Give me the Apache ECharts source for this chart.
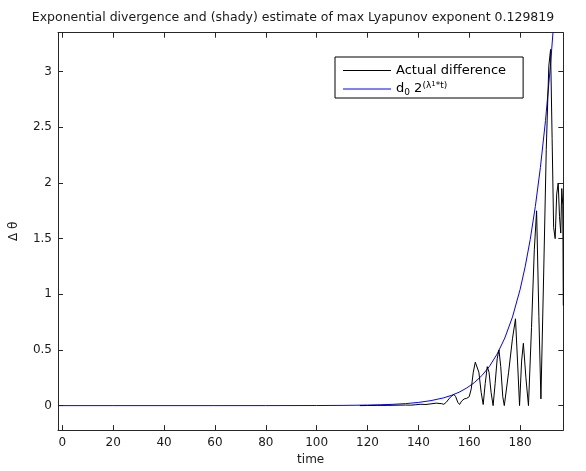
<!DOCTYPE html>
<html>
<head>
<meta charset="utf-8">
<script src="https://cdn.jsdelivr.net/npm/echarts@6/dist/echarts.min.js"></script>
<style>
html,body{margin:0;padding:0;background:#fff;}
#chart{width:586px;height:471px;}
</style>
</head>
<body>
<div id="chart"></div>
<script>
// ---- data ----
var titleText = 'Exponential divergence and (shady) estimate of max Lyapunov exponent 0.129819';
var seriesNames = ['Actual difference', 'd0 2^(λ1*t)'];
var xTicks = [0, 20, 40, 60, 80, 100, 120, 140, 160, 180];
var yTicks = [0, 0.5, 1, 1.5, 2, 2.5, 3];

var estimateTime = [-1.7, 20, 40, 60, 80, 100, 110, 120, 125, 130, 135, 140, 145, 150, 153, 156, 159, 162, 165, 168, 171, 174, 177, 180, 182, 184, 186, 188, 190, 192, 194, 196];
var estimateValue = [0, 0, 0, 0, 0.0001, 0.0008, 0.0019, 0.0047, 0.0075, 0.0116, 0.018, 0.0285, 0.045, 0.070, 0.092, 0.120, 0.158, 0.206, 0.270, 0.354, 0.464, 0.607, 0.795, 1.042, 1.247, 1.493, 1.788, 2.14, 2.56, 3.07, 3.67, 4.40];

var actualTime = [117, 120, 124, 128, 132, 135, 137, 139, 141, 143, 145, 147, 149, 150, 151, 152, 153, 154, 154.7, 155.5, 156.2, 157, 158, 159, 160, 160.8, 161.6, 162.4, 163, 163.8, 164.7, 165.5, 166.3, 167.1, 167.8, 168.6, 169.4, 170.2, 171, 171.7, 172.4, 173.2, 173.8, 175.5, 177, 178.2, 179, 179.8, 180.6, 181.3, 182.3, 183.3, 184.5, 185.6, 186.5, 187.4, 188.2, 189.3, 190.3, 191.3, 192.0, 192.6, 193.2, 193.8, 194.4, 195.0, 195.5, 196.0, 196.4, 196.8, 197.0];
var actualValue = [0, 0.001, 0.002, 0.002, 0.004, 0.005, 0.004, 0.008, 0.012, 0.010, 0.016, 0.022, 0.018, 0.012, 0.030, 0.060, 0.085, 0.100, 0.080, 0.030, 0.010, 0.040, 0.060, 0.065, 0.080, 0.150, 0.300, 0.390, 0.400, 0.300, 0.120, 0.010, 0.200, 0.350, 0.300, 0.120, 0.000, 0.200, 0.420, 0.500, 0.350, 0.080, 0.000, 0.300, 0.600, 0.780, 0.400, 0.000, 0.400, 0.560, 0.250, 0.000, 0.700, 1.400, 1.750, 0.800, 0.060, 1.200, 2.300, 3.050, 3.200, 2.400, 1.600, 1.500, 1.900, 2.000, 1.700, 1.550, 1.950, 1.800, 0.900];

function pairs(xs, ys) {
  var out = [];
  for (var i = 0; i < xs.length; i++) out.push([xs[i], ys[i]]);
  return out;
}

var FONT = 'DejaVu Sans, Liberation Sans, sans-serif';
var AX = '#262626';
var TXT = '#1a1a1a';
var xMin = -1.7, xMax = 197, yMin = -0.22, yMax = 3.35;

var chart = echarts.init(document.getElementById('chart'), null, {renderer: 'canvas'});

function baseX(pos, show) {
  return {
    type: 'value', position: pos, min: xMin, max: xMax,
    axisLine: {show: true, onZero: false, lineStyle: {color: AX, width: 1}},
    axisTick: {show: true, inside: true, length: 5, customValues: xTicks, lineStyle: {color: AX}},
    axisLabel: {show: show, customValues: xTicks, color: TXT, fontFamily: FONT, fontSize: 12, margin: 7},
    splitLine: {show: false}
  };
}
function baseY(pos, show) {
  return {
    type: 'value', position: pos, min: yMin, max: yMax,
    axisLine: {show: true, onZero: false, lineStyle: {color: AX, width: 1}},
    axisTick: {show: true, inside: true, length: 5, customValues: yTicks, lineStyle: {color: AX}},
    axisLabel: {show: show, customValues: yTicks, color: TXT, fontFamily: FONT, fontSize: 12, margin: 6},
    splitLine: {show: false}
  };
}

var xBottom = baseX('bottom', true);
xBottom.name = 'time';
xBottom.nameLocation = 'middle';
xBottom.nameGap = 23;
xBottom.nameTextStyle = {color: TXT, fontFamily: FONT, fontSize: 12};
var yLeft = baseY('left', true);
yLeft.name = 'Δ θ';
yLeft.nameLocation = 'middle';
yLeft.nameRotate = 90;
yLeft.nameGap = 38;
yLeft.nameTextStyle = {color: TXT, fontFamily: FONT, fontSize: 12};

var option = {
  backgroundColor: '#fff',
  animation: false,
  title: {
    text: titleText, left: 'center', top: 6,
    textStyle: {color: TXT, fontFamily: FONT, fontSize: 12.5, fontWeight: 'normal'}
  },
  grid: {left: 56.5, right: 22.7, top: 32.7, bottom: 38.5, containLabel: false},
  legend: {
    orient: 'vertical', left: 335, top: 57,
    backgroundColor: '#fff', borderColor: '#000', borderWidth: 1,
    padding: [7, 17, 1, 8],
    itemWidth: 48, itemHeight: 1, itemGap: 4,
    icon: 'rect',
    textStyle: {
      color: '#000', fontFamily: FONT, fontSize: 13,
      rich: {
        n: {fontSize: 13, fontFamily: FONT, color: '#000', lineHeight: 16},
        sub: {fontSize: 9, fontFamily: FONT, color: '#000', verticalAlign: 'bottom', lineHeight: 16, padding: [6, 0, 0, 0]},
        sup: {fontSize: 9, fontFamily: FONT, color: '#000', verticalAlign: 'top', lineHeight: 16, padding: [0, 0, 6, 0]},
        supsub: {fontSize: 7, fontFamily: FONT, color: '#000', verticalAlign: 'top', lineHeight: 16, padding: [0, 0, 2, 0]}
      }
    },
    formatter: function (name) {
      if (name === seriesNames[1]) {
        return '{n|d}{sub|0}{n| 2}{sup|(λ}{supsub|1}{sup|*t)}';
      }
      return '{n|' + name + '}';
    },
    data: [{name: seriesNames[0]}, {name: seriesNames[1]}]
  },
  xAxis: [xBottom, baseX('top', false)],
  yAxis: [yLeft, baseY('right', false)],
  series: [
    {
      name: seriesNames[0], type: 'line', xAxisIndex: 0, yAxisIndex: 0,
      data: pairs(actualTime, actualValue),
      symbol: 'none', showSymbol: false, clip: true, z: 3,
      lineStyle: {color: '#000', width: 1}, itemStyle: {color: '#000'}
    },
    {
      name: seriesNames[1], type: 'line', xAxisIndex: 0, yAxisIndex: 0,
      data: pairs(estimateTime, estimateValue),
      symbol: 'none', showSymbol: false, clip: true, z: 2,
      lineStyle: {color: '#0000ff', width: 1}, itemStyle: {color: '#0000ff'}
    }
  ]
};
chart.setOption(option);
</script>
</body>
</html>
